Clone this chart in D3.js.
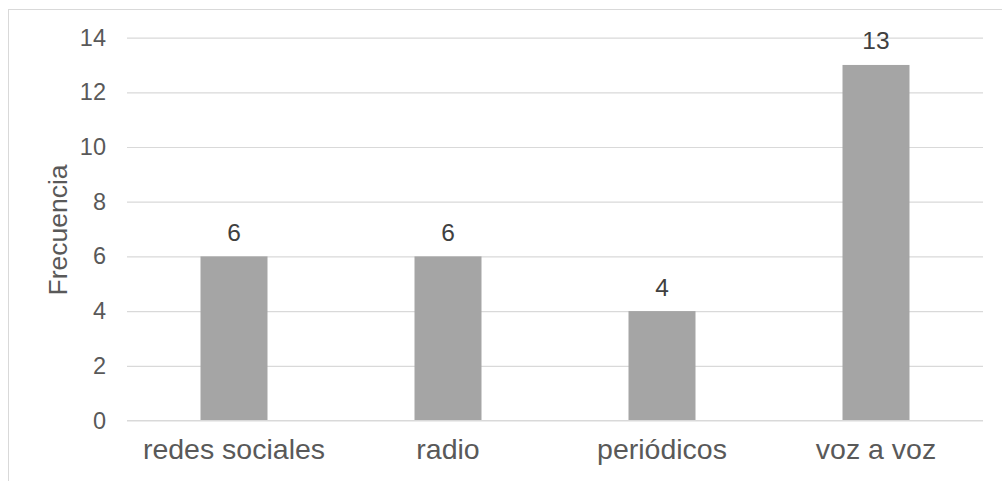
<!DOCTYPE html>
<html><head><meta charset="utf-8">
<script src="https://cdn.jsdelivr.net/npm/d3@7"></script>
<style>
html,body{margin:0;padding:0;background:#fff;}
svg{display:block;font-family:"Liberation Sans",Arial,sans-serif;}
</style></head>
<body>
<svg id="chart" width="1002" height="481"></svg>
<script>
const categories = ["redes sociales", "radio", "periódicos", "voz a voz"];
const values = [6, 6, 4, 13];
const yTicks = [0, 2, 4, 6, 8, 10, 12, 14];
const yTitle = "Frecuencia";

const svg = d3.select("#chart");
const plot = {left: 127, right: 983, top: 37.6, bottom: 420.5};
const textColor = "#595959";

// outer chart border
svg.append("rect").attr("x", 8.5).attr("y", 9.5).attr("width", 1010).attr("height", 500)
  .attr("fill", "#fff").attr("stroke", "#D9D9D9").attr("stroke-width", 1);

const x = d3.scaleBand().domain(categories).range([plot.left, plot.right]).paddingInner(0.687).paddingOuter(0.3435);
const y = d3.scaleLinear().domain([0, 14]).range([plot.bottom, plot.top]);

// gridlines + tick labels
const yAxis = d3.axisLeft(y).tickValues(yTicks).tickSize(-(plot.right - plot.left)).tickPadding(21);
const gy = svg.append("g").attr("transform", `translate(${plot.left},0)`).call(yAxis);
gy.select(".domain").remove();
gy.selectAll(".tick line").attr("stroke", "#D9D9D9").attr("stroke-width", 1.2);
gy.selectAll(".tick text").attr("fill", textColor).attr("font-size", 23.5)
  .attr("font-family", "Liberation Sans, Arial, sans-serif");

// bars
svg.append("g").selectAll("rect").data(values).join("rect")
  .attr("x", (d, i) => x(categories[i]))
  .attr("width", x.bandwidth())
  .attr("y", d => y(d))
  .attr("height", d => y(0) - y(d))
  .attr("fill", "#A5A5A5");

// baseline on top
svg.append("line").attr("x1", plot.left).attr("x2", plot.right)
  .attr("y1", y(0)).attr("y2", y(0)).attr("stroke", "#D9D9D9").attr("stroke-width", 1.2);

// data labels
svg.append("g").selectAll("text").data(values).join("text")
  .attr("x", (d, i) => x(categories[i]) + x.bandwidth() / 2)
  .attr("y", d => y(d) - 15.5)
  .attr("text-anchor", "middle")
  .attr("fill", "#404040")
  .attr("font-size", 24.5)
  .text(d => d);

// category axis
const xAxis = d3.axisBottom(x).tickSize(0).tickPadding(0);
const gx = svg.append("g").attr("transform", `translate(0,${plot.bottom})`).call(xAxis);
gx.select(".domain").remove();
gx.selectAll(".tick text").attr("fill", textColor).attr("font-size", 28.5)
  .attr("font-family", "Liberation Sans, Arial, sans-serif")
  .attr("dy", null).attr("y", 38);

// y axis title
svg.append("text")
  .attr("transform", `translate(66.5,230) rotate(-90)`)
  .attr("text-anchor", "middle")
  .attr("fill", textColor)
  .attr("font-size", 26.5)
  .text(yTitle);
</script>
</body></html>
